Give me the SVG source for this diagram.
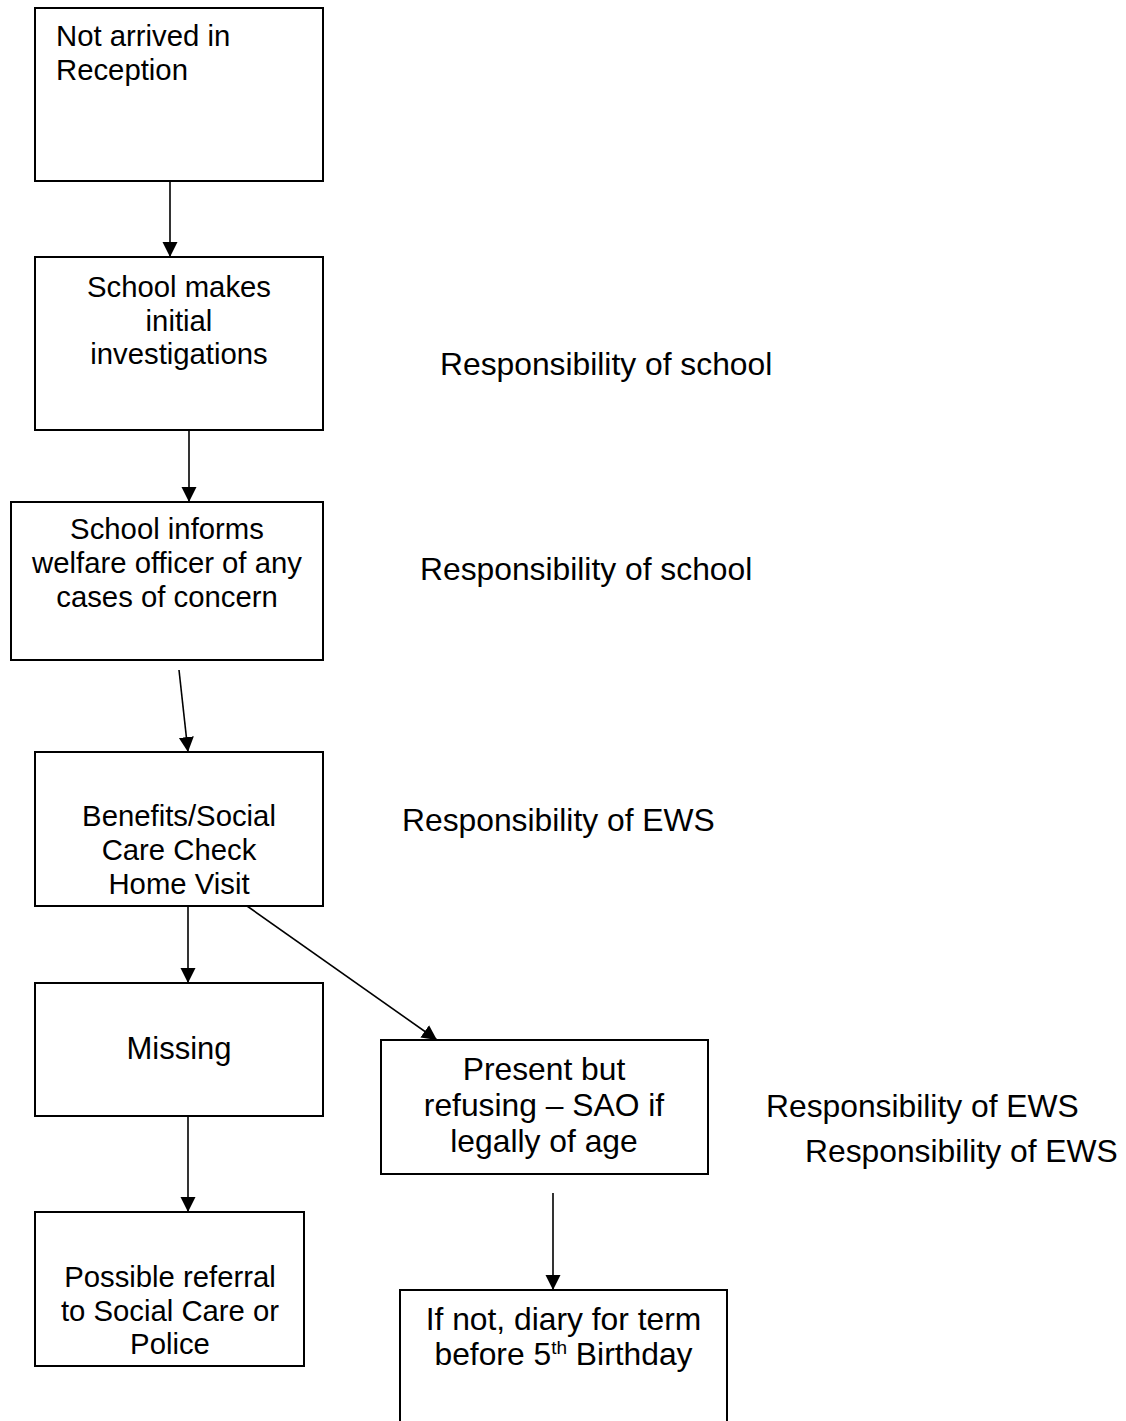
<svg xmlns="http://www.w3.org/2000/svg" width="1126" height="1421" viewBox="0 0 1126 1421">
<style>
.box{fill:#fff;stroke:#000;stroke-width:2}
.t{font-family:"Liberation Sans",Arial,sans-serif;fill:#000;font-size:29.3px}
.c{text-anchor:middle}
.l{font-family:"Liberation Sans",Arial,sans-serif;fill:#000;font-size:31.8px}
.big{font-size:31.8px}
.conn line{stroke:#000;stroke-width:1.6;fill:none}
</style>
<defs>
<marker id="ah" markerUnits="userSpaceOnUse" markerWidth="16" markerHeight="16" viewBox="0 0 16 16" refX="15" refY="8" orient="auto">
<path d="M0,0.5 L15,8 L0,15.5 Z" fill="#000"/>
</marker>
</defs>
<rect width="1126" height="1421" fill="#fff"/>
<g id="connectors" class="conn">
<line x1="170" y1="181" x2="170" y2="257" marker-end="url(#ah)"/>
<line x1="189" y1="430" x2="189" y2="502" marker-end="url(#ah)"/>
<line x1="179" y1="670" x2="188" y2="752" marker-end="url(#ah)"/>
<line x1="188" y1="906" x2="188" y2="983" marker-end="url(#ah)"/>
<line x1="247" y1="906" x2="437" y2="1040" marker-end="url(#ah)"/>
<line x1="188" y1="1116" x2="188" y2="1212" marker-end="url(#ah)"/>
<line x1="553" y1="1193" x2="553" y2="1290" marker-end="url(#ah)"/>
</g>
<g id="n1">
<rect class="box" x="35" y="8" width="288" height="173"/>
<text class="t" x="56" y="46">Not arrived in</text>
<text class="t" x="56" y="80">Reception</text>
</g>
<g id="n2">
<rect class="box" x="35" y="257" width="288" height="173"/>
<text class="t c" x="179" y="297">School makes</text>
<text class="t c" x="179" y="331">initial</text>
<text class="t c" x="179" y="364">investigations</text>
</g>
<g id="n3">
<rect class="box" x="11" y="502" width="312" height="158"/>
<text class="t c" x="167" y="539">School informs</text>
<text class="t c" x="167" y="573">welfare officer of any</text>
<text class="t c" x="167" y="607">cases of concern</text>
</g>
<g id="n4">
<rect class="box" x="35" y="752" width="288" height="154"/>
<text class="t c" x="179" y="826">Benefits/Social</text>
<text class="t c" x="179" y="860">Care Check</text>
<text class="t c" x="179" y="894">Home Visit</text>
</g>
<g id="n5">
<rect class="box" x="35" y="983" width="288" height="133"/>
<text class="t c" x="179" y="1059" style="font-size:31px">Missing</text>
</g>
<g id="n6">
<rect class="box" x="381" y="1040" width="327" height="134"/>
<text class="t c big" x="544" y="1080">Present but</text>
<text class="t c big" x="544" y="1116">refusing – SAO if</text>
<text class="t c big" x="544" y="1152">legally of age</text>
</g>
<g id="n7">
<rect class="box" x="35" y="1212" width="269" height="154"/>
<text class="t c" x="170" y="1287">Possible referral</text>
<text class="t c" x="170" y="1321">to Social Care or</text>
<text class="t c" x="170" y="1354">Police</text>
</g>
<g id="n8">
<path class="box" d="M400,1422 L400,1290 L727,1290 L727,1422"/>
<text class="t c big" x="563.5" y="1330">If not, diary for term</text>
<text class="t c big" x="563.5" y="1365">before 5<tspan dy="-11" style="font-size:19px">th</tspan><tspan dy="11"> Birthday</tspan></text>
</g>
<g id="labels">
<text class="l" x="440" y="375">Responsibility of school</text>
<text class="l" x="420" y="580">Responsibility of school</text>
<text class="l" x="402" y="831">Responsibility of EWS</text>
<text class="l" x="766" y="1117">Responsibility of EWS</text>
<text class="l" x="805" y="1162">Responsibility of EWS</text>
</g>
</svg>
